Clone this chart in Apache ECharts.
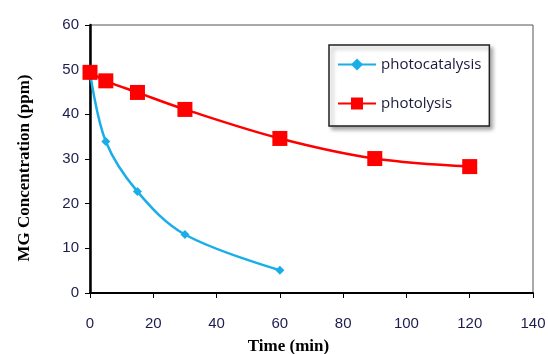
<!DOCTYPE html>
<html>
<head>
<meta charset="utf-8">
<script src="https://cdn.jsdelivr.net/npm/echarts@6/dist/echarts.min.js"></script>
<style>
  html, body { margin: 0; padding: 0; background: #fff; }
  #chart { width: 548px; height: 354px; }
</style>
</head>
<body>
<div id="chart"></div>
<script>
// time (min) and MG concentration (ppm)
const catalysisTime = [0, 5, 15, 30, 60]
const catalysisConc = [49.4, 33.9, 22.7, 13.1, 5.1]
const photolysisTime = [0, 5, 15, 30, 60, 90, 120]
const photolysisConc = [49.4, 47.5, 44.9, 41.1, 34.6, 30.1, 28.3]

const pairs = (xs, ys) => xs.map((x, i) => [x, ys[i]])

const labelColor = '#1c1c4e'
const chart = echarts.init(document.getElementById('chart'))
chart.setOption({
    animation: false,
    grid: {
        left: 90, right: 15, top: 25, bottom: 61,
        outerBoundsMode: 'none',
        show: true, borderColor: '#555', borderWidth: 1
    },
    legend: {
        orient: 'vertical',
        left: 329, top: 45,
        padding: [12, 8, 15, 8],
        itemGap: 24,
        itemWidth: 38,
        itemHeight: 15,
        backgroundColor: '#fff',
        borderColor: '#222',
        borderWidth: 1.5,
        shadowBlur: 4,
        shadowOffsetX: 3,
        shadowOffsetY: 3,
        shadowColor: 'rgba(0,0,0,0.35)',
        textStyle: {fontFamily: 'Open Sans', fontSize: 15, color: '#1a1a3a'},
        data: ['photocatalysis', 'photolysis']
    },
    xAxis: {
        type: 'value',
        min: 0, max: 140, interval: 20,
        name: 'Time (min)',
        nameLocation: 'middle',
        nameGap: 45,
        nameTextStyle: {
            fontFamily: 'Liberation Serif', fontWeight: 'bold', fontSize: 17,
            color: '#000', padding: [0, 46, 0, 0]
        },
        axisLine: {lineStyle: {color: '#000', width: 2}},
        axisTick: {show: true, length: 5, lineStyle: {color: '#000'}},
        axisLabel: {margin: 23, fontFamily: 'Liberation Sans', fontSize: 15, color: labelColor},
        splitLine: {show: false}
    },
    yAxis: {
        type: 'value',
        min: 0, max: 60, interval: 10,
        name: 'MG Concentration (ppm)',
        nameLocation: 'middle',
        nameGap: 57,
        nameTextStyle: {
            fontFamily: 'Liberation Serif', fontWeight: 'bold', fontSize: 17,
            color: '#000', padding: [0, 18, 0, 0]
        },
        axisLine: {show: true, lineStyle: {color: '#000', width: 2.5}},
        axisTick: {show: true, length: 5, lineStyle: {color: '#000'}},
        axisLabel: {margin: 11, fontFamily: 'Liberation Sans', fontSize: 15, color: labelColor},
        splitLine: {show: false}
    },
    series: [
        {
            name: 'photocatalysis',
            type: 'line',
            data: pairs(catalysisTime, catalysisConc),
            smooth: 0.35,
            symbol: 'diamond',
            symbolSize: 9,
            color: '#1aaee9',
            lineStyle: {width: 2.5, color: '#1aaee9'},
            itemStyle: {color: '#1aaee9'}
        },
        {
            name: 'photolysis',
            type: 'line',
            data: pairs(photolysisTime, photolysisConc),
            smooth: 0.35,
            symbol: 'rect',
            symbolSize: 15,
            color: '#ff0000',
            lineStyle: {width: 2.5, color: '#ff0000'},
            itemStyle: {color: '#ff0000'}
        }
    ]
})
</script>
</body>
</html>
